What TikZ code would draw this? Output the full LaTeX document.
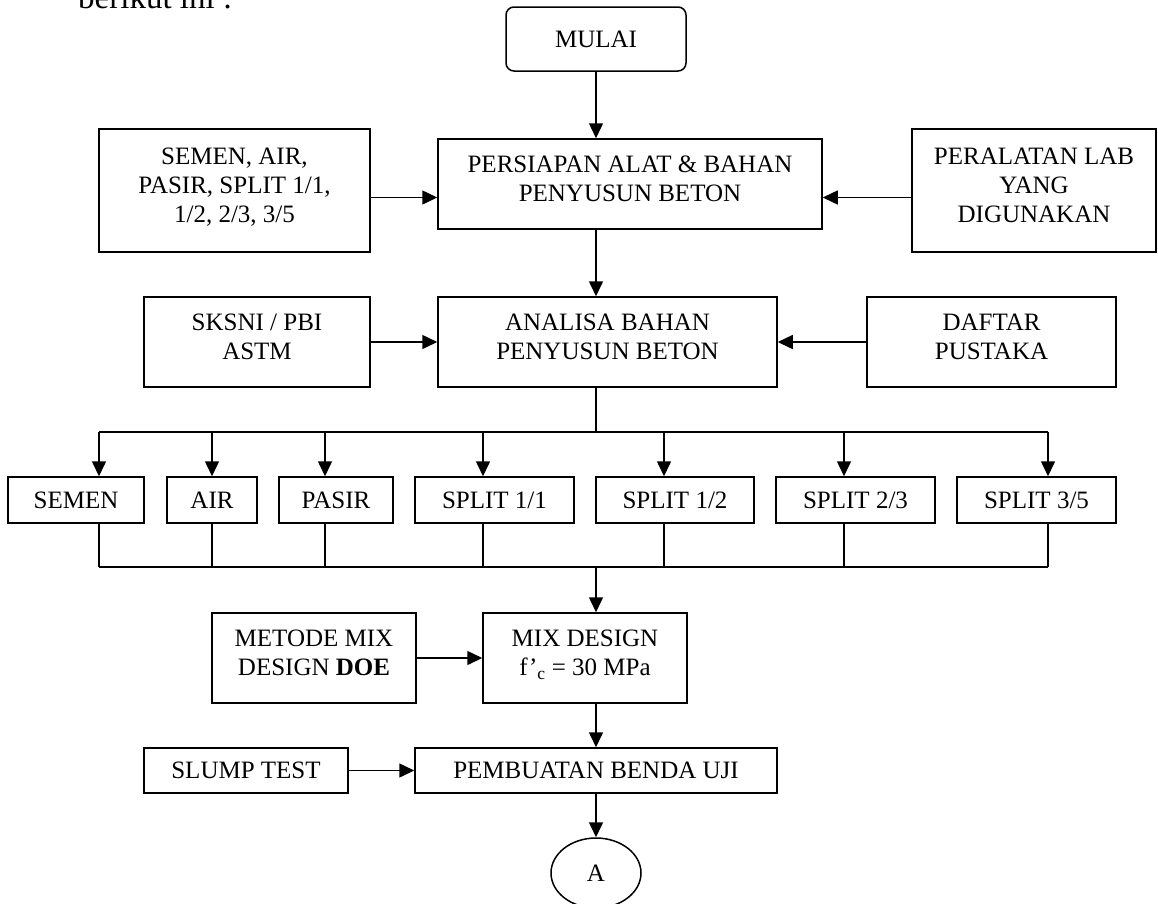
\documentclass[tikz,border=0pt]{standalone}
\usepackage{fontspec}
\setmainfont{Liberation Serif}
\usetikzlibrary{arrows.meta,shapes.geometric}
\begin{document}
\begin{tikzpicture}[x=1pt,y=-1pt,
  box/.style={draw, line width=1.5pt, inner sep=0pt, align=center,
    font=\fontsize{25}{29}\selectfont},
  up/.style={text depth=10pt},
  arr/.style={line width=1.5pt, -{Triangle[length=15pt,width=14pt]}},
  ln/.style={line width=1.5pt}]
\useasboundingbox (0,0) rectangle (1158,903);

\node[anchor=base west, inner sep=0pt, font=\fontsize{33}{40}\selectfont] (intro) at (78,8) {berikut ini :};

% top part
\node[box, rounded corners=8pt, minimum width=180pt, minimum height=64pt] (mulai) at (596,39) {MULAI};
\node[box, up, minimum width=271pt, minimum height=123pt] (bahan) at (234.5,190.5) {SEMEN, AIR,\\PASIR, SPLIT 1/1,\\1/2, 2/3, 3/5};
\node[box, up, minimum width=384pt, minimum height=90pt] (persiapan) at (630,184) {PERSIAPAN ALAT \& BAHAN\\PENYUSUN BETON};
\node[box, up, minimum width=244pt, minimum height=123pt] (peralatan) at (1034,190.5) {PERALATAN LAB\\YANG\\DIGUNAKAN};

\node[box, up, minimum width=226pt, minimum height=90pt] (sksni) at (257,342) {SKSNI / PBI\\ASTM};
\node[box, up, minimum width=339pt, minimum height=90pt] (analisa) at (607.5,342) {ANALISA BAHAN\\PENYUSUN BETON};
\node[box, up, minimum width=249pt, minimum height=90pt] (daftar) at (991.5,342) {DAFTAR\\PUSTAKA};

% material row
\node[box, minimum width=136pt, minimum height=46pt] (semen) at (76,500) {SEMEN};
\node[box, minimum width=90pt, minimum height=46pt] (air) at (212,500) {AIR};
\node[box, minimum width=114pt, minimum height=46pt] (pasir) at (336,500) {PASIR};
\node[box, minimum width=159pt, minimum height=46pt] (s11) at (494.5,500) {SPLIT 1/1};
\node[box, minimum width=158pt, minimum height=46pt] (s12) at (675,500) {SPLIT 1/2};
\node[box, minimum width=159pt, minimum height=46pt] (s23) at (855.5,500) {SPLIT 2/3};
\node[box, minimum width=159pt, minimum height=46pt] (s35) at (1036.5,500) {SPLIT 3/5};

% lower part
\node[box, up, minimum width=204pt, minimum height=90pt] (metode) at (314,658) {METODE MIX\\DESIGN \textbf{DOE}};
\node[box, up, minimum width=204pt, minimum height=90pt] (mix) at (585,658) {MIX DESIGN\\f’\textsubscript{c} = 30 MPa};
\node[box, minimum width=204pt, minimum height=45pt] (slump) at (246,770.5) {SLUMP TEST};
\node[box, minimum width=362pt, minimum height=45pt] (pembuatan) at (596,770.5) {PEMBUATAN BENDA UJI};
\node[box, ellipse, minimum width=90pt, minimum height=70pt] (A) at (596,873) {A};

% helper coordinates
\coordinate (cx) at (596,0);
\coordinate (r1) at (0,197.5);
\coordinate (br) at (0,432);
\coordinate (mg) at (0,567);
\coordinate (x1) at (99,0);
\coordinate (x2) at (212,0);
\coordinate (x3) at (325,0);
\coordinate (x4) at (483,0);
\coordinate (x5) at (664,0);
\coordinate (x6) at (844,0);
\coordinate (x7) at (1048,0);

% connectors
\draw[arr] (mulai.south) -- (cx |- persiapan.north);
\draw[arr] (bahan.east |- r1) -- (persiapan.west |- r1);
\draw[arr] (peralatan.west |- r1) -- (persiapan.east |- r1);
\draw[arr] (cx |- persiapan.south) -- (cx |- analisa.north);
\draw[arr] (sksni.east) -- (analisa.west);
\draw[arr] (daftar.west) -- (analisa.east);

\draw[ln] (cx |- analisa.south) -- (cx |- br);
\draw[ln] (x1 |- br) -- (x7 |- br);
\draw[arr] (x1 |- br) -- (x1 |- semen.north);
\draw[arr] (x2 |- br) -- (x2 |- air.north);
\draw[arr] (x3 |- br) -- (x3 |- pasir.north);
\draw[arr] (x4 |- br) -- (x4 |- s11.north);
\draw[arr] (x5 |- br) -- (x5 |- s12.north);
\draw[arr] (x6 |- br) -- (x6 |- s23.north);
\draw[arr] (x7 |- br) -- (x7 |- s35.north);

\draw[ln] (x1 |- semen.south) -- (x1 |- mg);
\draw[ln] (x2 |- air.south) -- (x2 |- mg);
\draw[ln] (x3 |- pasir.south) -- (x3 |- mg);
\draw[ln] (x4 |- s11.south) -- (x4 |- mg);
\draw[ln] (x5 |- s12.south) -- (x5 |- mg);
\draw[ln] (x6 |- s23.south) -- (x6 |- mg);
\draw[ln] (x7 |- s35.south) -- (x7 |- mg);
\draw[ln] (x1 |- mg) -- (x7 |- mg);
\draw[arr] (cx |- mg) -- (cx |- mix.north);

\draw[arr] (metode.east) -- (mix.west);
\draw[arr] (cx |- mix.south) -- (cx |- pembuatan.north);
\draw[arr] (slump.east) -- (pembuatan.west);
\draw[arr] (pembuatan.south) -- (A.north);
\end{tikzpicture}
\end{document}
